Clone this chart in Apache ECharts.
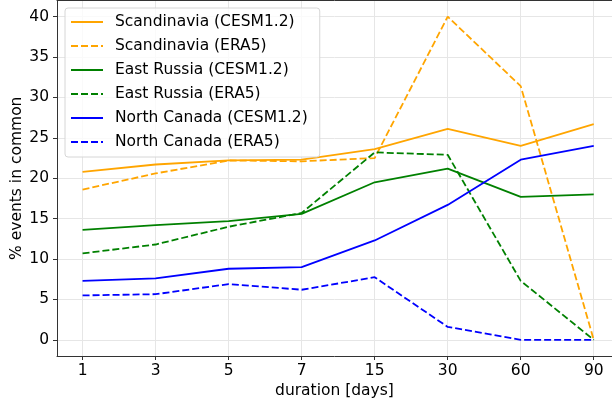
<!DOCTYPE html>
<html><head><meta charset="utf-8">
<script src="https://cdn.jsdelivr.net/npm/echarts@6/dist/echarts.min.js"></script>
<style>html,body{margin:0;padding:0;background:#fff}#c{width:612px;height:403px}</style>
</head><body><div id="c"></div>
<script>
const durations = ['1', '3', '5', '7', '15', '30', '60', '90'];
const scandCESM = [20.8, 21.7, 22.2, 22.3, 23.6, 26.1, 24.0, 26.7];
const scandERA5 = [18.6, 20.6, 22.2, 22.1, 22.5, 40.0, 31.4, 0.0];
const eRusCESM  = [13.6, 14.2, 14.7, 15.6, 19.5, 21.2, 17.7, 18.0];
const eRusERA5  = [10.7, 11.8, 14.0, 15.7, 23.2, 22.9, 7.3, 0.0];
const nCanCESM  = [7.3, 7.6, 8.8, 9.0, 12.3, 16.7, 22.3, 24.0];
const nCanERA5  = [5.5, 5.65, 6.9, 6.2, 7.75, 1.6, 0.0, 0.0];
const yTickValues = [0, 5, 10, 15, 20, 25, 30, 35, 40];

const FONT = 'DejaVu Sans';
const FS = 15.5;
const seriesDefs = [
  ['Scandinavia (CESM1.2)', scandCESM, '#FFA500', 'solid'],
  ['Scandinavia (ERA5)', scandERA5, '#FFA500', 'dashed'],
  ['East Russia (CESM1.2)', eRusCESM, '#008000', 'solid'],
  ['East Russia (ERA5)', eRusERA5, '#008000', 'dashed'],
  ['North Canada (CESM1.2)', nCanCESM, '#0000FF', 'solid'],
  ['North Canada (ERA5)', nCanERA5, '#0000FF', 'dashed']
];
const xIdx = durations.map((d, i) => i);

const chart = echarts.init(document.getElementById('c'), null, {renderer: 'canvas'});
chart.setOption({
  animation: false,
  backgroundColor: '#fff',
  grid: {left: 57, right: 0, top: 0.5, bottom: 47, containLabel: false, outerBoundsMode: 'none'},
  legend: {
    orient: 'vertical', left: 65, top: 8,
    data: seriesDefs.map(s => s[0]),
    itemWidth: 32, itemHeight: 15, itemGap: 8,
    padding: [6, 12, 7, 5],
    backgroundColor: 'rgba(255,255,255,0.8)',
    borderColor: '#d6d6d6', borderWidth: 1, borderRadius: 3,
    itemStyle: {opacity: 0},
    textStyle: {fontFamily: FONT, fontSize: FS, color: '#000', padding: [0, 0, 0, 7]}
  },
  xAxis: [{
    type: 'value', min: -0.35, max: 7.25, splitNumber: 8,
    name: 'duration [days]', nameLocation: 'middle', nameGap: 27, nameMoveOverlap: false,
    nameTextStyle: {fontFamily: FONT, fontSize: FS, color: '#000'},
    axisLine: {show: true, onZero: false, lineStyle: {color: '#333', width: 1}},
    axisTick: {show: true, length: 4, lineStyle: {color: '#333'}, customValues: xIdx},
    axisLabel: {fontFamily: FONT, fontSize: FS, color: '#000', margin: 7, customValues: xIdx,
      formatter: v => (Number.isInteger(v) && durations[v] !== undefined) ? durations[v] : ''},
    splitLine: {show: true, lineStyle: {color: '#e6e6e6', width: 1}}
  }, {
    type: 'value', position: 'top', min: -0.35, max: 7.25,
    axisLine: {show: true, onZero: false, lineStyle: {color: '#333', width: 1}},
    axisTick: {show: false}, axisLabel: {show: false}, splitLine: {show: false}
  }],
  yAxis: {
    type: 'value', min: -2, max: 42, splitNumber: 9,
    name: '% events in common', nameLocation: 'middle', nameGap: 32, nameMoveOverlap: false,
    nameTextStyle: {fontFamily: FONT, fontSize: FS, color: '#000'},
    axisLine: {show: true, onZero: false, lineStyle: {color: '#333', width: 1}},
    axisTick: {show: true, length: 4, lineStyle: {color: '#333'}, customValues: yTickValues},
    axisLabel: {fontFamily: FONT, fontSize: FS, color: '#000', margin: 8, customValues: yTickValues,
      formatter: v => (v % 5 === 0 ? String(v) : '')},
    splitLine: {show: true, lineStyle: {color: '#e6e6e6', width: 1}}
  },
  series: seriesDefs.map(([name, vals, color, dash]) => ({
    name, type: 'line', xAxisIndex: 0, symbol: 'none',
    data: vals.map((v, i) => [xIdx[i], v]),
    lineStyle: {color, width: 1.8, type: dash === 'dashed' ? [7, 3] : 'solid'},
    itemStyle: {color}
  }))
});
</script></body></html>
